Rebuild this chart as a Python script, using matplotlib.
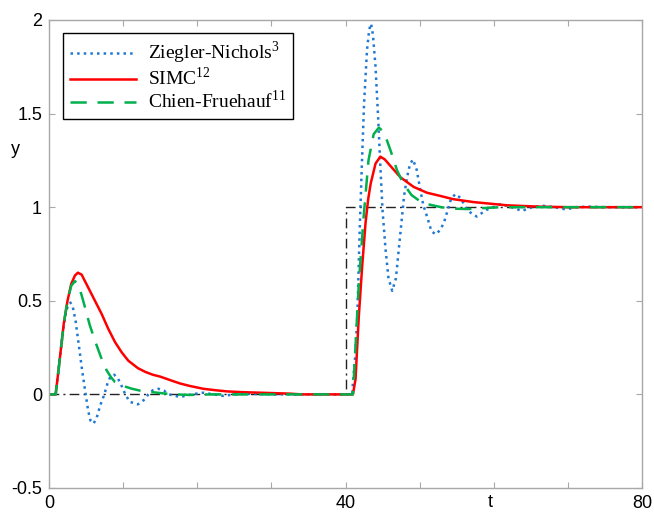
import matplotlib
matplotlib.use("Agg")
import matplotlib.pyplot as plt

plt.rcParams['font.family'] = ['Liberation Sans', 'DejaVu Sans']
plt.rcParams['mathtext.fontset'] = 'custom'
plt.rcParams['mathtext.rm'] = 'Liberation Serif'

# reference signal: load disturbance part at 0, setpoint step at t = 40
t_ref = [0, 40, 40, 80]
y_ref = [0, 0, 1, 1]

# Ziegler-Nichols response
t_zn = [0, 0.9, 1.2, 1.6, 2.0, 2.3, 2.6, 2.9, 3.2, 3.6, 4.0, 4.5, 4.95, 5.3, 5.6,
        6.0, 6.4, 6.9, 7.47, 7.9, 8.3, 8.8, 9.3, 9.8, 10.3, 10.9, 12.0, 12.8,
        13.4, 14.0, 14.75, 15.5, 16.2, 17.7, 19.2, 20.8, 22.2, 23.5, 25.0, 27.0,
        30.0, 40.0, 40.9, 41.0, 41.3, 41.6, 41.9, 42.2, 42.5, 42.9, 43.2, 43.45,
        43.7, 44.05, 44.4, 44.7, 45.0, 45.4, 45.8, 46.3, 46.8, 47.4, 47.9, 48.3,
        48.7, 49.1, 49.6, 50.1, 50.5, 51.0, 51.6, 52.2, 52.8, 53.3, 54.2, 54.8,
        55.5, 56.5, 57.7, 59.0, 60.9, 62.4, 63.8, 65.2, 66.7, 68.2, 69.7, 71.2,
        72.7, 75.0, 80.0]
y_zn = [0, 0, 0.10, 0.24, 0.37, 0.44, 0.48, 0.49, 0.47, 0.39, 0.27, 0.12, 0.0,
        -0.09, -0.14, -0.156, -0.13, -0.06, 0.0, 0.06, 0.095, 0.105, 0.085, 0.045,
        0.0, -0.04, -0.053, -0.03, 0.0, 0.022, 0.03, 0.02, 0.0, -0.014, 0.0, 0.009,
        0.0, -0.008, 0.0, 0.003, 0.0, 0.0, 0.0, 0.06, 0.2, 0.42, 0.86, 1.22, 1.55,
        1.84, 1.95, 1.98, 1.92, 1.75, 1.48, 1.22, 0.98, 0.775, 0.62, 0.553, 0.62,
        0.86, 1.06, 1.16, 1.23, 1.255, 1.2, 1.09, 1.01, 0.95, 0.87, 0.855, 0.88,
        0.92, 1.04, 1.07, 1.05, 0.98, 0.95, 0.985, 1.016, 1.0, 0.98, 1.0, 1.007,
        1.0, 0.988, 1.0, 1.003, 1.0, 1.0]

# SIMC response
t_simc = [0, 0.9, 1.2, 1.6, 2.0, 2.5, 3.0, 3.5, 3.9, 4.4, 5.3, 6.2, 7.1, 8.0, 8.9,
          9.8, 10.7, 12.0, 13.0, 14.0, 15.0, 16.8, 17.7, 19.0, 20.8, 22.5, 24.0,
          26.0, 28.5, 32.5, 34.0, 40.0, 41.0, 41.35, 41.6, 41.8, 42.25, 42.7,
          43.05, 43.4, 44.05, 44.7, 45.3, 46.0, 47.4, 49.2, 51.0, 52.8, 54.5,
          57.3, 61.8, 66.0, 70.0, 80.0]
y_simc = [0, 0, 0.10, 0.24, 0.38, 0.50, 0.59, 0.635, 0.65, 0.64, 0.57, 0.50, 0.43,
          0.35, 0.28, 0.225, 0.18, 0.14, 0.12, 0.105, 0.095, 0.07, 0.058, 0.045,
          0.03, 0.022, 0.016, 0.012, 0.009, 0.004, 0.0, 0.0, 0.0, 0.08, 0.27, 0.42,
          0.685, 0.915, 1.04, 1.127, 1.233, 1.27, 1.255, 1.223, 1.16, 1.108, 1.077,
          1.06, 1.043, 1.027, 1.01, 1.003, 1.0, 1.0]

# Chien-Fruehauf response
t_cf = [0, 0.9, 1.2, 1.6, 2.0, 2.5, 3.0, 3.5, 3.9, 4.4, 4.86, 5.5, 6.2, 7.0, 7.78,
        8.4, 8.9, 10.0, 11.2, 12.5, 13.9, 15.5, 17.0, 19.0, 22.0, 40.0, 41.0,
        41.3, 41.8, 42.45, 43.1, 43.8, 44.5, 45.2, 46.1, 46.95, 47.8, 48.9, 50.1,
        51.4, 52.9, 54.5, 56.5, 58.5, 61.0, 80.0]
y_cf = [0, 0, 0.10, 0.24, 0.38, 0.50, 0.58, 0.605, 0.59, 0.53, 0.465, 0.37, 0.287,
        0.2, 0.128, 0.09, 0.066, 0.045, 0.03, 0.018, 0.012, 0.005, 0.0, -0.003,
        0.0, 0.0, 0.0, 0.22, 0.595, 0.95, 1.25, 1.39, 1.425, 1.40, 1.30, 1.197,
        1.126, 1.065, 1.03, 1.013, 1.0, 0.992, 0.99, 0.995, 1.0, 1.0]

fig = plt.figure(figsize=(6.54, 5.12), dpi=100)
ax = fig.add_axes([0.0749, 0.0469, 0.9068, 0.9141])

ax.plot(t_ref, y_ref, color='#222222', lw=1.0, ls=(0, (7, 3, 1.5, 3)))
ax.plot(t_zn, y_zn, color='#1f78d1', lw=1.8, ls=':', label='Ziegler-Nichols$^{3}$')
ax.plot(t_simc, y_simc, color='#ff0000', lw=1.8, label='SIMC$^{12}$')
ax.plot(t_cf, y_cf, color='#00b04c', lw=1.8, dashes=(6.5, 4.3),
        label='Chien-Fruehauf$^{11}$')

ax.set_xlim(0, 80)
ax.set_ylim(-0.5, 2)
ax.set_xticks(range(0, 81, 10))
ax.set_xticklabels(['0', '', '', '', '40', '', '', '', '80'])
ax.set_yticks([-0.5, 0, 0.5, 1, 1.5, 2])
ax.set_yticklabels(['-0.5', '0', '0.5', '1', '1.5', '2'])
ax.tick_params(direction='in', length=4, width=0.8, color='#a8a8a8',
               top=True, right=True, labelsize=13, pad=5)
for s in ax.spines.values():
    s.set_color('#a8a8a8')
    s.set_linewidth(1.0)

fig.text(15 / 654, 1 - 150 / 512, 'y', fontsize=13, ha='center', va='center')
fig.text(490 / 654, 1 - 511 / 512, 't', fontsize=13, ha='center', va='bottom')

leg = ax.legend(loc='upper left', bbox_to_anchor=(0.024, 0.972), borderaxespad=0,
                fancybox=False, edgecolor='black', framealpha=1, handlelength=3.4,
                handletextpad=0.6, labelspacing=0.02, borderpad=0.35,
                prop={'family': 'Liberation Serif', 'size': 14})
leg.get_frame().set_linewidth(1.0)

fig.savefig('out.png', dpi=100)
